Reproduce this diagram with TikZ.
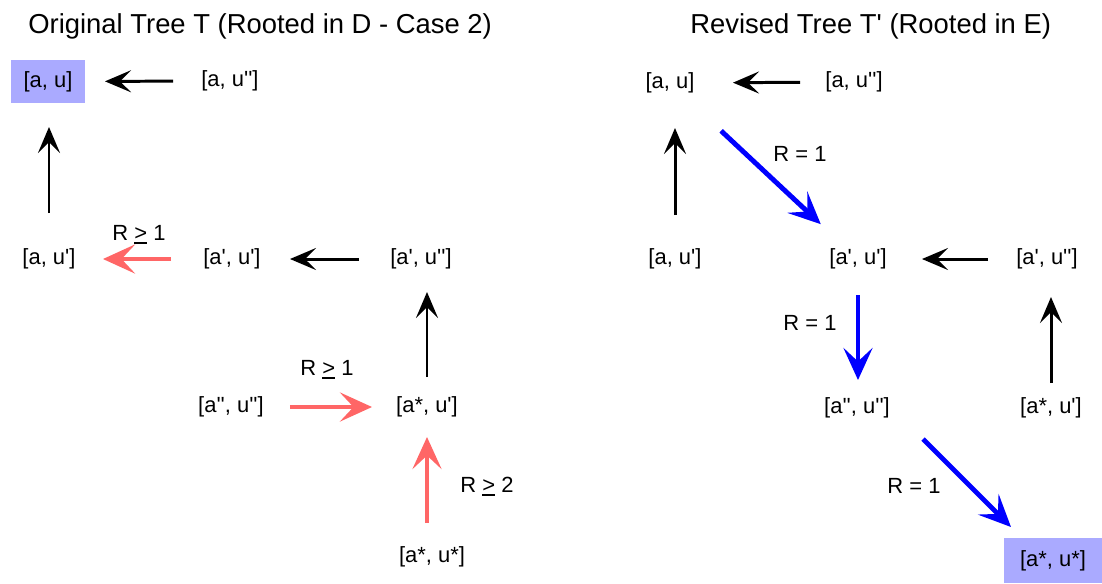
\documentclass[tikz,border=0pt]{standalone}
\usepackage{fontspec}
\setmainfont{Liberation Sans}[Ligatures=TeXOff]
\usepackage{xcolor}
\usepackage{tikz}
\usetikzlibrary{arrows.meta,positioning}
\definecolor{hlblue}{RGB}{170,170,255}
\definecolor{softred}{RGB}{255,102,102}
\newcommand{\undergt}{\makebox[0pt][l]{\rule[-2.4pt]{0.58em}{1.3pt}}>}

\begin{document}
\begin{tikzpicture}[x=0.02cm, y=-0.02cm,
    state/.style={font=\fontsize{12.5}{15}\selectfont, inner sep=0pt},
    root/.style={state, fill=hlblue},
    lbl/.style={font=\fontsize{12.5}{15}\selectfont, anchor=base},
    heading/.style={font=\fontsize{15.6}{19}\selectfont, anchor=base west, inner sep=0pt},
    edge/.style={line width=1.7pt, -{Stealth[length=0.52cm, width=0.44cm, inset=0.22cm]}},
    rededge/.style={line width=2.8pt, softred, -{Stealth[length=0.64cm, width=0.58cm, inset=0.27cm]}},
    blueedge/.style={rededge, blue}]
    \useasboundingbox (0,0) rectangle (1102,583);

    % Titles
    \node[heading] (title1) at (28,33) {Original Tree T (Rooted in D - Case 2)};
    \node[heading] (title2) at (690,33) {Revised Tree T' (Rooted in E)};

    % Original tree
    \node[root, minimum width=1.5cm, minimum height=0.86cm] (au) at (48,81.5) {[a, u]};
    \node[state] (auu) at (230,81) {[a, u'']};
    \node[state] (aup) at (49,259) {[a, u']};
    \node[state] (apup) at (232,259) {[a', u']};
    \node[state] (apuu) at (421,259) {[a', u'']};
    \node[state] (aauu) at (231,407) {[a'', u'']};
    \node[state] (asup) at (427,407) {[a*, u']};
    \node[state] (asus) at (432,557) {[a*, u*]};

    \draw[edge, shorten <=1.14cm, shorten >=1.14cm] (auu.center) -- (au.center);
    \draw[edge, shorten <=0.92cm, shorten >=0.91cm] (aup.center) -- (aup |- au);
    \draw[rededge, shorten <=1.22cm, shorten >=1.08cm] (apup.center) -- (aup.center);
    \draw[edge, shorten <=1.24cm, shorten >=1.16cm] (apuu.center) -- (apup.center);
    \draw[edge, shorten <=0.6cm, shorten >=0.66cm] (asup.center) -- (asup |- apuu);
    \draw[rededge, shorten <=1.18cm, shorten >=1.1cm] (aauu.center) -- (asup.center);
    \draw[rededge, shorten <=0.68cm, shorten >=0.6cm] (asup |- asus) -- (asup.center);

    \node[lbl] (rlab1) at (139,240) {R \undergt{} 1};
    \node[lbl] (rlab2) at (327,375) {R \undergt{} 1};
    \node[lbl] (rlab3) at (487,492) {R \undergt{} 2};

    % Revised tree
    \node[state] (rau) at (670,83) {[a, u]};
    \node[state] (rauu) at (854,82) {[a, u'']};
    \node[state] (raup) at (675,259) {[a, u']};
    \node[state] (rapup) at (858,259) {[a', u']};
    \node[state] (rapuu) at (1047,259) {[a', u'']};
    \node[state] (raauu) at (857,408) {[a'', u'']};
    \node[state] (rasup) at (1051,408) {[a*, u']};
    \node[root, minimum width=1.96cm, minimum height=0.9cm] (rasus) at (1053,560.5) {[a*, u*]};

    \draw[edge, shorten <=1.08cm, shorten >=1.26cm] (rauu.center) -- (rau.center);
    \draw[edge, shorten <=0.88cm, shorten >=0.9cm] (raup.center) -- (raup |- rau);
    \draw[blueedge, shorten <=1.4cm, shorten >=1.02cm] (rau.center) -- (rapup.center);
    \draw[edge, shorten <=1.18cm, shorten >=1.28cm] (rapuu.center) -- (rapup.center);
    \draw[blueedge, shorten <=0.72cm, shorten >=0.56cm] (rapup.center) -- (rapup |- raauu);
    \draw[edge, shorten <=0.5cm, shorten >=0.76cm] (rasup.center) -- (rasup |- rapuu);
    \draw[blueedge] ([shift={(66,31)}]raauu.center) -- ([shift={(-42,-33.5)}]rasus.center);

    \node[lbl] (qlab1) at (800,161) {R = 1};
    \node[lbl] (qlab2) at (810,330) {R = 1};
    \node[lbl] (qlab3) at (914,493) {R = 1};
\end{tikzpicture}
\end{document}
